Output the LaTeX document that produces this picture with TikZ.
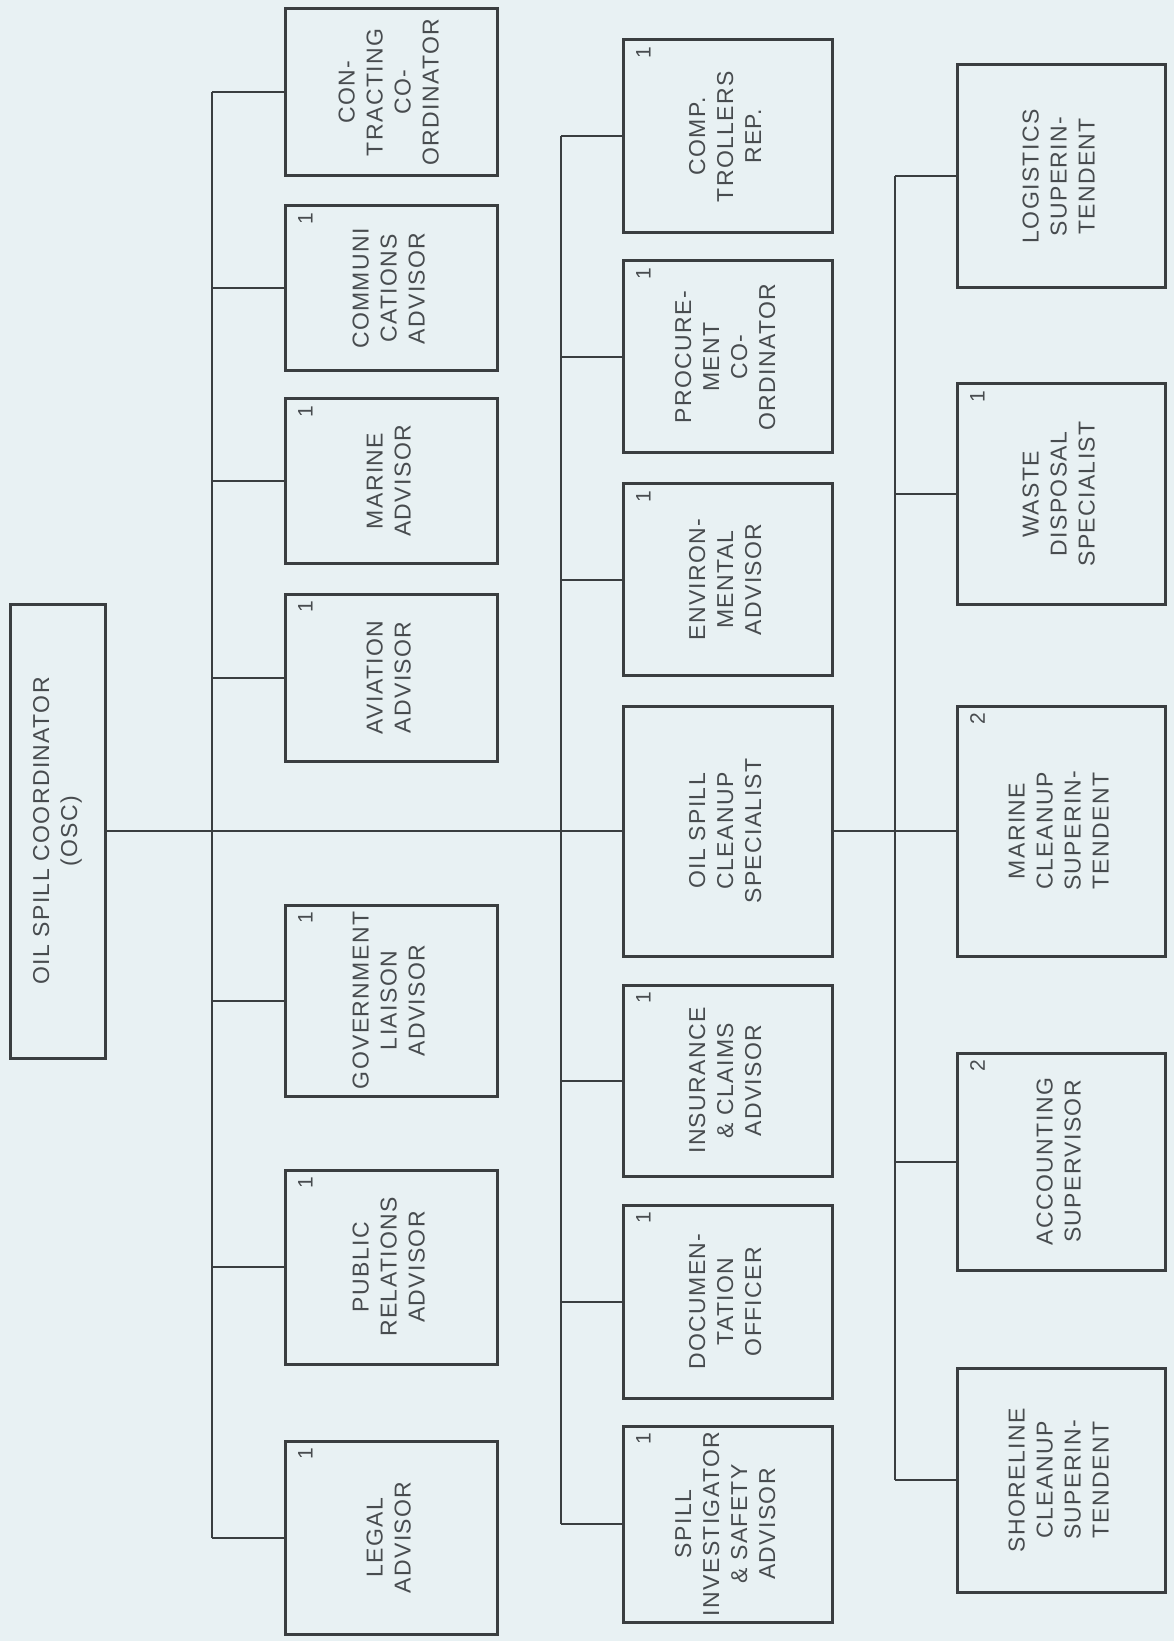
\documentclass[tikz,border=0pt]{standalone}
\usepackage{fontspec}
\setmainfont{Liberation Sans}[LetterSpace=6]
\usepackage{graphicx}
\usetikzlibrary{calc}
\definecolor{bgc}{RGB}{232,241,243}
\definecolor{ink}{RGB}{58,62,64}
\definecolor{txt}{RGB}{72,76,79}
\tikzset{
 orgbox/.style={draw=ink, line width=1.5pt, inner sep=0pt, text=txt, font=\fontsize{11.5}{14}\selectfont},
 conn/.style={draw=ink, line width=1pt},
 numlbl/.style={text=txt, inner sep=0pt, font=\fontsize{10.5}{12}\selectfont, rotate=90},
}
\newcommand\mkbox[7]{%
 \pgfmathsetmacro\bxc{(#2+#4)/2}%
 \pgfmathsetmacro\byc{(#3+#5)/2}%
 \pgfmathsetmacro\bxw{(#4-#2)*0.5}%
 \pgfmathsetmacro\byh{(#5-#3)*0.5}%
 \node[orgbox, minimum width=\bxw pt, minimum height=\byh pt] (#1) at (\bxc,\byc) {\rotatebox{90}{\begin{tabular}{@{}c@{}}#6\end{tabular}}};%
 \if\relax\detokenize{#7}\relax\else
 \node[numlbl] at ($(#1.north west)+(22,14)$) {#7};\fi
}
\begin{document}
\begin{tikzpicture}[x=0.5pt,y=-0.5pt]
\fill[bgc] (0,0) rectangle (1174,1641);
\useasboundingbox (0,0) rectangle (1174,1641);
% top
\mkbox{osc}{10}{604}{105}{1058}{OIL SPILL COORDINATOR\\(OSC)}{}
% column 1
\mkbox{contr}{285}{9}{497}{176}{CON-\\TRACTING\\CO-\\ORDINATOR}{}
\mkbox{comm}{285}{206}{497}{371}{COMMUNI\\CATIONS\\ADVISOR}{1}
\mkbox{marine}{285}{399}{497}{563}{MARINE\\ADVISOR}{1}
\mkbox{aviation}{285}{594}{497}{761}{AVIATION\\ADVISOR}{1}
\mkbox{govt}{285}{905}{497}{1096}{GOVERNMENT\\LIAISON\\ADVISOR}{1}
\mkbox{pr}{285}{1170}{497}{1364}{PUBLIC\\RELATIONS\\ADVISOR}{1}
\mkbox{legal}{285}{1441}{497}{1634}{LEGAL\\ADVISOR}{1}
% column 2
\mkbox{comp}{623}{40}{832}{233}{COMP.\\TROLLERS\\REP.}{1}
\mkbox{proc}{623}{261}{832}{453}{PROCURE-\\MENT\\CO-\\ORDINATOR}{1}
\mkbox{env}{623}{484}{832}{675}{ENVIRON-\\MENTAL\\ADVISOR}{1}
\mkbox{oilspill}{623}{706}{832}{956}{OIL SPILL\\CLEANUP\\SPECIALIST}{}
\mkbox{ins}{623}{985}{832}{1176}{INSURANCE\\\& CLAIMS\\ADVISOR}{1}
\mkbox{doc}{623}{1205}{832}{1398}{DOCUMEN-\\TATION\\OFFICER}{1}
\mkbox{spill}{623}{1426}{832}{1622}{SPILL\\INVESTIGATOR\\\& SAFETY\\ADVISOR}{1}
% column 3
\mkbox{logi}{957}{65}{1165}{288}{LOGISTICS\\SUPERIN-\\TENDENT}{}
\mkbox{waste}{957}{384}{1165}{604}{WASTE\\DISPOSAL\\SPECIALIST}{1}
\mkbox{mcs}{957}{706}{1165}{956}{MARINE\\CLEANUP\\SUPERIN-\\TENDENT}{2}
\mkbox{acct}{957}{1053}{1165}{1270}{ACCOUNTING\\SUPERVISOR}{2}
\mkbox{shore}{957}{1368}{1165}{1592}{SHORELINE\\CLEANUP\\SUPERIN-\\TENDENT}{}
% trunks
\coordinate (t1) at (212,0);
\coordinate (t2) at (561,0);
\coordinate (t3) at (895,0);
\draw[conn] (t1 |- contr.west) -- (t1 |- legal.west);
\draw[conn] (t2 |- comp.west) -- (t2 |- spill.west);
\draw[conn] (t3 |- logi.west) -- (t3 |- shore.west);
\foreach \b in {contr,comm,marine,aviation,govt,pr,legal}
  \draw[conn] (\b.west) -- (t1 |- \b.west);
\foreach \b in {comp,proc,env,ins,doc,spill}
  \draw[conn] (\b.west) -- (t2 |- \b.west);
\foreach \b in {logi,waste,acct,shore}
  \draw[conn] (\b.west) -- (t3 |- \b.west);
\draw[conn] (osc.east) -- (oilspill.west);
\draw[conn] (oilspill.east) -- (mcs.west);
\end{tikzpicture}
\end{document}
